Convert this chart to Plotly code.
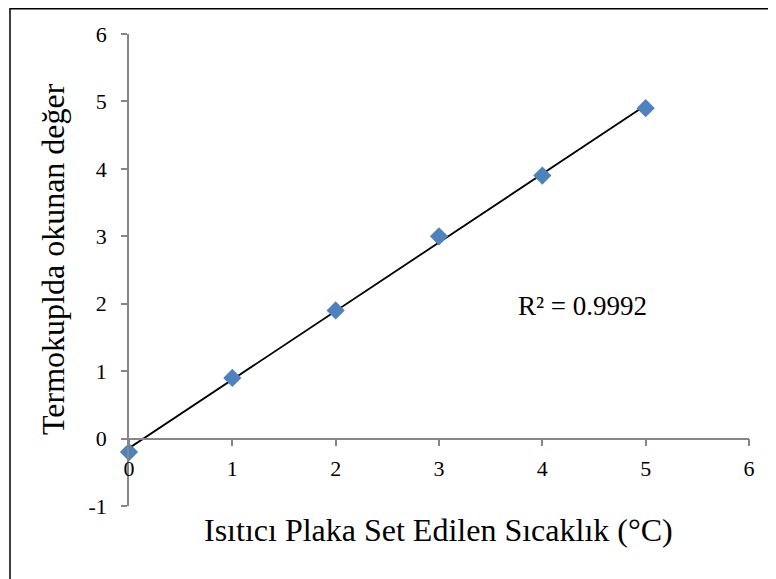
import numpy as np
import plotly.graph_objects as go

# Data
x_vals = [0, 1, 2, 3, 4, 5]
y_vals = [-0.2, 0.9, 1.9, 3.0, 3.9, 4.9]
x_ticks = [0, 1, 2, 3, 4, 5, 6]
x_tick_text = ["0", "1", "2", "3", "4", "5", "6"]
y_ticks = [-1, 0, 1, 2, 3, 4, 5, 6]
y_tick_text = ["-1", "0", "1", "2", "3", "4", "5", "6"]
x_title = "Isıtıcı Plaka Set Edilen Sıcaklık (°C)"
y_title = "Termokuplda okunan değer"

# Linear trendline
slope, intercept = np.polyfit(x_vals, y_vals, 1)
pred = np.polyval([slope, intercept], x_vals)
ss_res = np.sum((np.array(y_vals) - pred) ** 2)
ss_tot = np.sum((np.array(y_vals) - np.mean(y_vals)) ** 2)
r2 = 1 - ss_res / ss_tot
trend_x = [min(x_vals), max(x_vals)]
trend_y = [slope * v + intercept for v in trend_x]

FONT = "Liberation Serif"
AX_COLOR = "#868686"

fig = go.Figure()
fig.add_trace(go.Scatter(
    x=trend_x, y=trend_y, mode="lines",
    line=dict(color="black", width=1.8),
    cliponaxis=False, showlegend=False, hoverinfo="skip"))
fig.add_trace(go.Scatter(
    x=x_vals, y=y_vals, mode="markers",
    marker=dict(symbol="diamond", size=14, color="#4F81BD", line=dict(width=0)),
    cliponaxis=False, showlegend=False))

# page has an 8px body margin -> figure is offset by 8px
OFF = 8
W, H = 776 - OFF, 579 - OFF
ml, mr, mt, mb = 129 - OFF, 27, 34 - OFF, 73
pw, ph = W - ml - mr, H - mt - mb

def px_to_paper(px, py):
    px -= OFF
    py -= OFF
    return (px - ml) / pw, (H - mb - py) / ph

fig.update_layout(
    width=W, height=H,
    margin=dict(l=ml, r=mr, t=mt, b=mb),
    paper_bgcolor="white", plot_bgcolor="white",
    font=dict(family=FONT, size=22, color="black"),
    xaxis=dict(
        range=[0, 6], tickvals=x_ticks, ticktext=x_tick_text,
        showgrid=False, zeroline=False,
        showline=True, linecolor=AX_COLOR, linewidth=1.5,
        ticks="outside", ticklen=7, tickcolor=AX_COLOR, tickwidth=1.5,
        anchor="free", position=1 / 7, ticklabelstandoff=3,
        tickfont=dict(family=FONT, size=22, color="black")),
    yaxis=dict(
        range=[-1, 6], tickvals=y_ticks, ticktext=y_tick_text,
        showgrid=False, zeroline=False,
        showline=True, linecolor=AX_COLOR, linewidth=1.5,
        ticks="outside", ticklen=6, tickcolor=AX_COLOR, tickwidth=1.5,
        ticklabelstandoff=10,
        tickfont=dict(family=FONT, size=22, color="black")),
)

# Titles
tx, ty = px_to_paper(438.5, 530)
yx, yy = px_to_paper(53, 259)
rx, ry = px_to_paper(582, 306)
fig.add_annotation(text=x_title, x=tx, y=ty, xref="paper", yref="paper",
                   showarrow=False, xanchor="center", yanchor="middle",
                   font=dict(family=FONT, size=32, color="black"))
fig.add_annotation(text=y_title, x=yx, y=yy, xref="paper", yref="paper",
                   showarrow=False, xanchor="center", yanchor="middle", textangle=-90,
                   font=dict(family=FONT, size=32, color="black"))
fig.add_annotation(text=f"R² = {r2:.4f}", x=rx, y=ry, xref="paper", yref="paper",
                   showarrow=False, xanchor="center", yanchor="middle",
                   font=dict(family=FONT, size=27, color="black"))

# Chart border (top and left visible); top edge clamped to the figure's top
bx0, _ = px_to_paper(10, 5)
_, by0 = px_to_paper(10, OFF + 0.75)
bx1, by1 = px_to_paper(800, 600)
fig.add_shape(type="rect", xref="paper", yref="paper",
              x0=bx0, y0=by1, x1=bx1, y1=by0,
              line=dict(color="black", width=1.5), fillcolor="rgba(0,0,0,0)",
              layer="below")

fig.write_html("out.html")
